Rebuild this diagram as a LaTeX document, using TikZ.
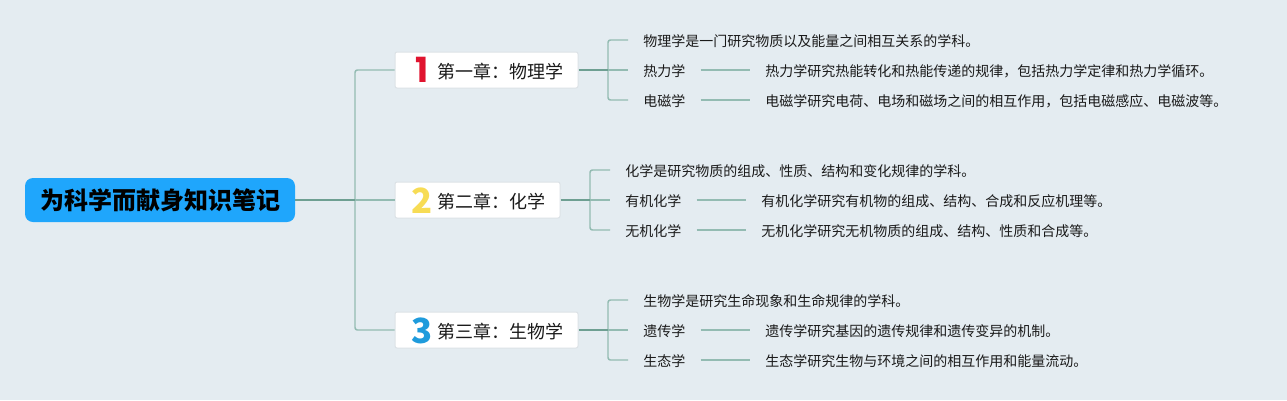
\documentclass[tikz,border=0pt]{standalone}
\usepackage{fontspec}
\setmainfont{Noto Sans CJK SC}
\newfontfamily\numfont{Poppins}
\definecolor{bgc}{HTML}{E4ECF1}
\definecolor{rootc}{HTML}{1FA6FC}
\definecolor{linec}{HTML}{93BBB2}
\definecolor{darkc}{HTML}{6E9F92}
\definecolor{boxline}{HTML}{DCE2E6}
\definecolor{txt}{HTML}{1A1A1A}
\definecolor{redn}{HTML}{E0142F}
\definecolor{yelln}{HTML}{F7DC55}
\definecolor{bluen}{HTML}{1E9BDC}
\tikzset{
  x=0.75pt,y=-0.75pt,
  rootbox/.style={fill=rootc,rounded corners=6pt,minimum width=202.5pt,minimum height=33pt,inner sep=0pt,
    font=\fontsize{18}{20}\selectfont\bfseries,text=black,text height=16.2pt,text depth=2.2pt},
  chapbox/.style={fill=white,draw=boxline,line width=0.75pt,rounded corners=1.5pt,minimum height=27pt,inner ysep=0pt,inner xsep=11.25pt,
    font=\fontsize{13.5}{16}\selectfont,text=txt,text height=14.6pt,text depth=2.5pt},
  leaf/.style={inner ysep=0pt,inner xsep=11.25pt,font=\fontsize{10.5}{13}\selectfont,text=txt,text height=10.2pt,text depth=0.9pt},
  digit/.style={inner sep=0pt,font=\fontsize{26}{28}\selectfont\bfseries},
  digitone/.style={inner sep=0pt,font=\fontsize{26}{28}\numfont\bfseries},
  conn/.style={draw=linec,line width=1.1pt,rounded corners=1.8pt},
  stem/.style={draw=darkc,line width=1.2pt},
}
\begin{document}
\begin{tikzpicture}
\useasboundingbox (0,0) rectangle (1287,400);
\fill[bgc] (0,0) rectangle (1287,400);

\node[rootbox] (root) at (160,200) {为科学而献身知识笔记};

\node[chapbox,minimum width=137.25pt,align=right,text width=114.75pt] (c1) at (486.5,70) {第一章：物理学};
\node[chapbox,minimum width=123.75pt,align=right,text width=101.25pt] (c2) at (477.5,200) {第二章：化学};
\node[chapbox,minimum width=137.25pt,align=right,text width=114.75pt] (c3) at (486.5,330) {第三章：生物学};
\node[digitone,text=redn] (d1) at (422,69.5) {1};
\node[digit,text=yelln] (d2) at (422.5,200.5) {2};
\node[digit,text=bluen] (d3) at (422.5,330.5) {3};

% chapter 1
\node[leaf,anchor=west] (a0) at (628,40) {物理学是一门研究物质以及能量之间相互关系的学科。};
\node[leaf,anchor=west] (a1) at (628,70) {热力学};
\node[leaf,anchor=west] (a1t) at (750,70) {热力学研究热能转化和热能传递的规律，包括热力学定律和热力学循环。};
\node[leaf,anchor=west] (a2) at (628,100) {电磁学};
\node[leaf,anchor=west] (a2t) at (750,100) {电磁学研究电荷、电场和磁场之间的相互作用，包括电磁感应、电磁波等。};
% chapter 2
\node[leaf,anchor=west] (b0) at (610,170) {化学是研究物质的组成、性质、结构和变化规律的学科。};
\node[leaf,anchor=west] (b1) at (610,200) {有机化学};
\node[leaf,anchor=west] (b1t) at (746,200) {有机化学研究有机物的组成、结构、合成和反应机理等。};
\node[leaf,anchor=west] (b2) at (610,230) {无机化学};
\node[leaf,anchor=west] (b2t) at (746,230) {无机化学研究无机物质的组成、结构、性质和合成等。};
% chapter 3
\node[leaf,anchor=west] (e0) at (628,300) {生物学是研究生命现象和生命规律的学科。};
\node[leaf,anchor=west] (e1) at (628,330) {遗传学};
\node[leaf,anchor=west] (e1t) at (750,330) {遗传学研究基因的遗传规律和遗传变异的机制。};
\node[leaf,anchor=west] (e2) at (628,360) {生态学};
\node[leaf,anchor=west] (e2t) at (750,360) {生态学研究生物与环境之间的相互作用和能量流动。};

\coordinate (trunk) at (355,200);
\coordinate (ba) at (608,70);
\coordinate (bb) at (590,200);
\coordinate (be) at (608,330);

% root to chapters
\draw[conn] (trunk) |- (c1.west);
\draw[conn] (trunk) |- (c3.west);
\draw[conn] (trunk) -- (c2.west);
\draw[stem] (root.east) -- (trunk);

% chapter 1 branches
\draw[conn] (ba) |- (a0.west);
\draw[conn] (ba) |- (a2.west);
\draw[conn] (ba) -- (a1.west);
\draw[stem] (c1.east) -- (ba);
\draw[conn] (a1.east) -- (a1t.west);
\draw[conn] (a2.east) -- (a2t.west);

% chapter 2 branches
\draw[conn] (bb) |- (b0.west);
\draw[conn] (bb) |- (b2.west);
\draw[conn] (bb) -- (b1.west);
\draw[stem] (c2.east) -- (bb);
\draw[conn] (b1.east) -- (b1t.west);
\draw[conn] (b2.east) -- (b2t.west);

% chapter 3 branches
\draw[conn] (be) |- (e0.west);
\draw[conn] (be) |- (e2.west);
\draw[conn] (be) -- (e1.west);
\draw[stem] (c3.east) -- (be);
\draw[conn] (e1.east) -- (e1t.west);
\draw[conn] (e2.east) -- (e2t.west);
\end{tikzpicture}
\end{document}
